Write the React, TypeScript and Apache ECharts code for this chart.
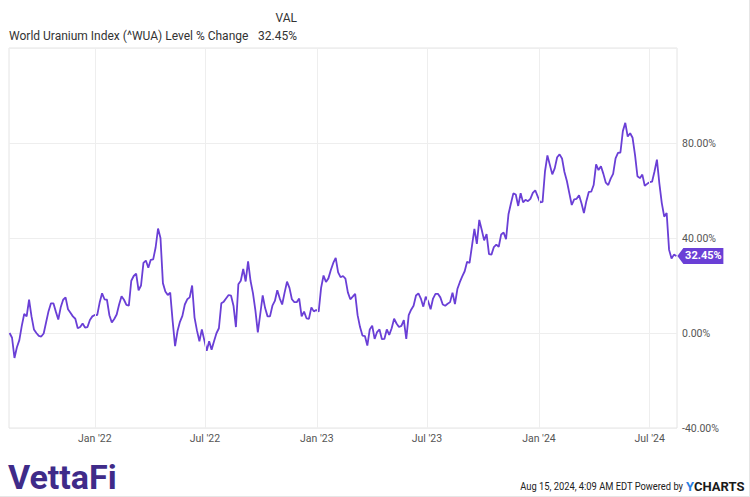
import React, { useEffect, useRef } from "react";
import * as echarts from "echarts";

const seriesName = "World Uranium Index (^WUA) Level % Change";
const lastValueText = "32.45%";
const startDate = [2021, 7, 14]; // first sample (Aug 14, 2021)
const stepDays = 4; // sampling step of the series
const axisStart = [2021, 7, 13];
const axisEnd = [2024, 7, 15];

const values: number[] = [
  0, -2, -10.5, -6, -3, 3, 8, 7, 14, 7,
  1.5, 0, -1.2, -1.5, -0.2, 4.5, 9.2, 12.5, 12.5, 9,
  5.7, 10.8, 14, 15, 10, 8.5, 7, 6, 2, 2.5,
  4, 2.3, 2.5, 5.5, 7, 7.6, 7.5, 12.8, 16.7, 14.2,
  14, 7.5, 4.4, 5.9, 7.8, 12, 15.5, 14, 11.8, 11.5,
  22, 24, 25, 18, 20, 29.5, 30.5, 27.5, 30.8, 31,
  36, 44, 40, 21, 17.5, 16, 17, 5, -5.5, 0.8,
  4.7, 7.2, 12, 14.2, 15, 20, 6.5, 1, -3.5, 1.5,
  -3, -7.5, -3.5, -7, -3.5, -0.1, 2, 12.5, 13.2, 14.6,
  16, 15.7, 11.5, 2.5, 20.5, 22, 27, 21.7, 30.2, 22,
  16.8, 9.5, 0.3, 8, 15.8, 10.5, 7, 7, 11.5, 13.5,
  18, 14.6, 12, 17, 21.6, 19, 14.2, 13, 13, 14.5,
  7, 9, 6.2, 6, 10.8, 9.1, 9.7, 9, 19, 24.2,
  21.5, 23, 26.5, 29.5, 31.6, 25.5, 23.5, 24, 22.9, 17.1,
  14.2, 15.3, 16.5, 7.5, 2.5, -1.1, -1.3, -5.3, 1.5, 3.1,
  -2.5, 0.4, 1.5, -2.6, -2.5, 1.5, -0.8, 2, 6, 4,
  2.5, 3, 5.4, -2.5, 7.5, 9.8, 11.5, 15.8, 16.7, 14.5,
  11.1, 15.3, 13.3, 10, 14.5, 16.5, 16.5, 15, 12, 11.5,
  12.3, 13, 17, 12.2, 18.5, 21.4, 23.8, 26, 30, 29.5,
  36.7, 43.8, 37.5, 47.6, 43.5, 39, 41.6, 33.2, 33, 36.2,
  37.2, 36.3, 41.5, 42.3, 39.5, 50, 54.5, 58.8, 58.3, 53.5,
  58.9, 55, 56.1, 55.5, 56.5, 59, 60.1, 57.5, 55, 55.2,
  68, 74.8, 70.8, 66.8, 69.3, 74, 75.2, 73.5, 67.8, 64,
  58.9, 53.9, 56.3, 56.5, 58, 54.6, 50.5, 55.5, 59.4, 59.5,
  62.3, 71, 68.6, 70.2, 67, 63.3, 62.3, 65, 67, 73.5,
  75.8, 76, 85, 88.5, 82.7, 84.1, 82.2, 75, 66, 65.2,
  66.7, 62, 62.8, 63.5, 63.7, 68, 73, 63, 54.7, 49,
  50.5, 35, 31.4, 33, 32.45,
];

const xTickDates = ["2022-01-01", "2022-07-01", "2023-01-01", "2023-07-01", "2024-01-01", "2024-07-01"];
const xTickLabels = ["Jan '22", "Jul '22", "Jan '23", "Jul '23", "Jan '24", "Jul '24"];
const yTickValues = [-40, 0, 40, 80];

const LINE_COLOR = "#6a3fd6";
const LABEL_FONT = "Roboto";

function localTs(parts: number[]) {
  return new Date(parts[0], parts[1], parts[2]).getTime();
}
function parseDay(s: string) {
  const [y, m, d] = s.split("-").map(Number);
  return new Date(y, m - 1, d).getTime();
}

export default function App() {
  const ref = useRef<HTMLDivElement>(null);

  useEffect(() => {
    document.body.style.margin = "0";
    if (!ref.current) return;
    const chart = echarts.init(ref.current, undefined, { renderer: "svg" });

    const data = values.map((v, i) => [
      new Date(startDate[0], startDate[1], startDate[2] + stepDays * i).getTime(),
      v,
    ]);
    const tickTs = xTickDates.map(parseDay);
    const last = data[data.length - 1];

    const option: any = {
      animation: false,
      backgroundColor: "#ffffff",
      textStyle: { fontFamily: "Roboto" },
      grid: {
        left: 9,
        right: 73,
        top: 48,
        bottom: 69,
        show: true,
        borderColor: "#e4e4e4",
        borderWidth: 1,
      },
      xAxis: {
        type: "time",
        min: localTs(axisStart),
        max: localTs(axisEnd),
        axisLine: { show: false },
        axisTick: { show: false },
        splitLine: { show: false },
        axisLabel: { show: false },
      },
      yAxis: {
        type: "value",
        position: "right",
        min: -40,
        max: 120,
        interval: 40,
        axisLine: { show: false },
        axisTick: { show: false },
        splitLine: { show: true, lineStyle: { color: "#eeeeee", width: 1 } },
        axisLabel: {
          color: "#555",
          fontSize: 10.5,
          fontFamily: LABEL_FONT,
          margin: 5,
          formatter: (v: number) => (yTickValues.indexOf(v) >= 0 ? v.toFixed(2) + "%" : ""),
        },
      },
      series: [
        {
          name: "xGrid",
          type: "line",
          data: [],
          z: 1,
          silent: true,
          markLine: {
            silent: true,
            symbol: "none",
            animation: false,
            lineStyle: { color: "#eeeeee", width: 1, type: "solid" },
            label: {
              show: true,
              position: "start",
              distance: 5,
              color: "#555",
              fontSize: 10.5,
              fontFamily: LABEL_FONT,
            },
            data: tickTs.map((t, i) => ({
              xAxis: t,
              label: { formatter: xTickLabels[i] },
            })),
          },
        },
        {
          name: seriesName,
          type: "line",
          z: 3,
          data,
          showSymbol: false,
          symbol: "none",
          lineStyle: { color: LINE_COLOR, width: 1.8 },
          itemStyle: { color: LINE_COLOR },
          markPoint: {
            silent: true,
            symbol: "path://M0,8 L6,0 L46,0 L46,16 L6,16 Z",
            symbolSize: [46, 16],
            symbolOffset: [24, 0],
            itemStyle: { color: LINE_COLOR },
            label: {
              show: true,
              position: "inside",
              offset: [3, 0],
              color: "#fff",
              fontWeight: "bold",
              fontSize: 11,
              fontFamily: LABEL_FONT,
              formatter: lastValueText,
            },
            data: [{ coord: last, value: last[1] }],
          },
        },
      ],
      graphic: [
        {
          type: "text",
          x: 297,
          y: 18,
          style: {
            text: "VAL",
            align: "right",
            verticalAlign: "middle",
            fill: "#333",
            font: "12px Roboto",
          },
        },
        {
          type: "text",
          x: 9,
          y: 36,
          style: {
            text: seriesName,
            align: "left",
            verticalAlign: "middle",
            fill: "#333",
            font: "12px Roboto",
          },
        },
        {
          type: "text",
          x: 297,
          y: 36,
          style: {
            text: lastValueText,
            align: "right",
            verticalAlign: "middle",
            fill: "#333",
            font: "12px Roboto",
          },
        },
        {
          type: "text",
          x: 8,
          y: 477,
          style: {
            text: "VettaFi",
            align: "left",
            verticalAlign: "middle",
            fill: "#3f2b89",
            font: "bold 34px Roboto",
          },
        },
        {
          type: "text",
          x: 683,
          y: 486,
          scaleX: 0.85,
          style: {
            text: "Aug 15, 2024, 4:09 AM EDT Powered by",
            align: "right",
            verticalAlign: "middle",
            fill: "#222",
            font: "11px Roboto",
          },
        },
        {
          type: "text",
          x: 686,
          y: 486,
          style: {
            text: "{y|Y}{c|CHARTS}",
            align: "left",
            verticalAlign: "middle",
            rich: {
              y: { fill: "#2a7de1", font: "bold 13px Roboto" },
              c: { fill: "#1a1a1a", font: "bold 13px Roboto" },
            },
          },
        },
        {
          type: "line",
          shape: { x1: 749.5, y1: 0, x2: 749.5, y2: 497 },
          style: { stroke: "#e6e6e6", lineWidth: 1 },
        },
        {
          type: "line",
          shape: { x1: 0, y1: 496.5, x2: 750, y2: 496.5 },
          style: { stroke: "#e6e6e6", lineWidth: 1 },
        },
      ],
    };

    chart.setOption(option);
    return () => chart.dispose();
  }, []);

  return (
    <div
      ref={ref}
      style={{ position: "absolute", left: 0, top: 0, width: 750, height: 497 }}
    />
  );
}
